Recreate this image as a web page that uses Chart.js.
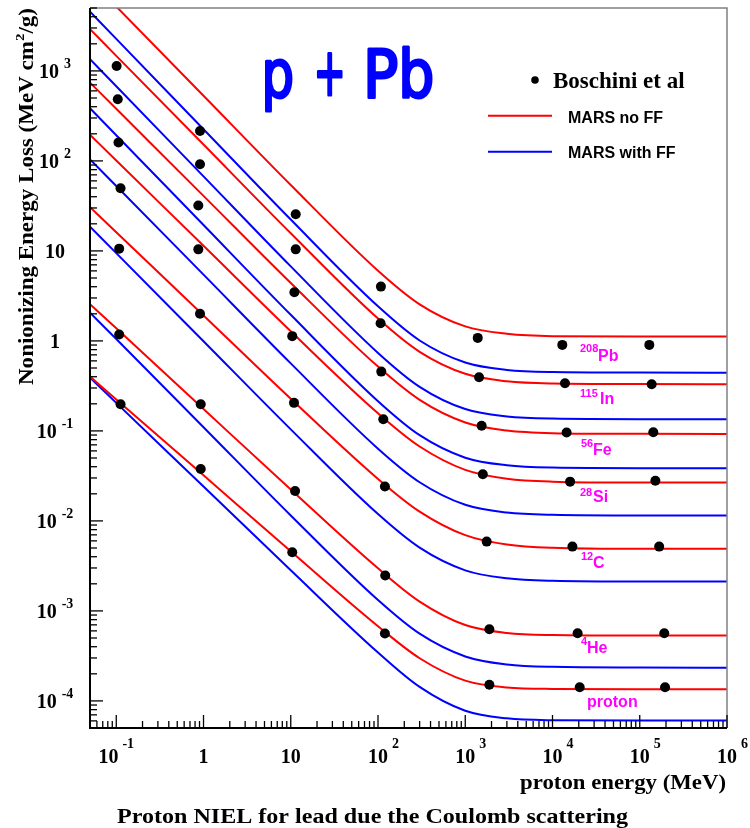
<!DOCTYPE html>
<html><head><meta charset="utf-8">
<script src="https://cdn.jsdelivr.net/npm/chart.js@4/dist/chart.umd.min.js"></script>
<style>html,body{margin:0;padding:0;background:#fff;}canvas{display:block;}</style>
</head><body>
<canvas id="c" width="750" height="828"></canvas>
<script>
// ---------- data (proton energy in MeV, NIEL in MeV cm2/g) ----------
const energy = [0.05, 0.1, 1, 10, 100, 300, 1000, 3000, 1e4, 1e5, 1e6];

// MARS without form factor (red)
const noFF_Pb = [10300, 5190, 530, 54.0, 6.02, 2.55, 1.45, 1.20, 1.13, 1.12, 1.12];
const noFF_In = [2910, 1470, 152, 15.7, 1.77, 0.756, 0.431, 0.356, 0.336, 0.331, 0.330];
const noFF_Fe = [741, 379, 40.9, 4.40, 0.518, 0.221, 0.124, 0.101, 0.0944, 0.0927, 0.0926];
const noFF_Si = [195, 101, 11.4, 1.28, 0.157, 0.0671, 0.0369, 0.0294, 0.0273, 0.0267, 0.0267];
const noFF_C  = [30.6, 16.1, 1.92, 0.228, 0.0293, 0.0127, 0.00695, 0.00546, 0.00502, 0.00489, 0.00489];
const noFF_He = [2.56, 1.38, 0.175, 0.0223, 0.00297, 0.00127, 0.000697, 0.000568, 0.000539, 0.000532, 0.000532];
const noFF_p  = [0.401, 0.224, 0.0321, 0.00460, 0.000676, 0.000298, 0.000168, 0.000141, 0.000136, 0.000135, 0.000135];

// MARS with form factor (blue)
const FF_Pb = [4560, 2270, 225, 22.3, 2.42, 1.01, 0.575, 0.476, 0.451, 0.445, 0.444];
const FF_In = [1350, 675, 67.4, 6.73, 0.736, 0.309, 0.175, 0.145, 0.137, 0.135, 0.135];
const FF_Fe = [385, 193, 19.4, 1.95, 0.214, 0.0897, 0.0504, 0.0415, 0.0391, 0.0385, 0.0385];
const FF_Si = [104, 52.7, 5.45, 0.563, 0.0635, 0.0269, 0.0151, 0.0124, 0.0117, 0.0115, 0.0115];
const FF_C  = [18.6, 9.45, 0.992, 0.104, 0.0119, 0.00504, 0.00282, 0.00230, 0.00216, 0.00212, 0.00212];
const FF_He = [2.06, 1.05, 0.110, 0.0115, 0.00132, 0.000558, 0.000312, 0.000254, 0.000239, 0.000235, 0.000234];
const FF_p  = [0.391, 0.205, 0.0241, 0.00283, 0.000345, 0.000143, 7.77e-5, 6.40e-5, 6.10e-5, 6.04e-5, 6.04e-5];

// Boschini et al points
const bosE_Pb = [0.101, 0.912, 11.4, 108, 1390, 12950, 128700];
const bos_Pb  = [1136, 215, 25.6, 4.01, 1.08, 0.903, 0.903];
const bosE_In = [0.104, 0.912, 11.4, 107, 1440, 13900, 137000];
const bos_In  = [485, 91.9, 10.4, 1.57, 0.395, 0.339, 0.330];
const bosE_Fe = [0.106, 0.872, 11.0, 109, 1540, 14500, 143000];
const bos_Fe  = [160, 31.9, 3.48, 0.456, 0.114, 0.0958, 0.0967];
const bosE_Si = [0.112, 0.872, 10.4, 115, 1590, 15900, 151000];
const bos_Si  = [49.7, 10.4, 1.13, 0.135, 0.0330, 0.0273, 0.0280];
const bosE_C  = [0.108, 0.912, 10.9, 120, 1760, 16900, 167000];
const bos_C   = [10.6, 2.00, 0.205, 0.0241, 0.00589, 0.00518, 0.00518];
const bosE_He = [0.108, 0.929, 11.2, 121, 1890, 19400, 191000];
const bos_He  = [1.18, 0.198, 0.0215, 0.00247, 0.000626, 0.000565, 0.000565];
const bosE_p  = [0.112, 0.929, 10.4, 120, 1890, 20500, 195000];
const bos_p   = [0.198, 0.0378, 0.00449, 0.00056, 0.000151, 0.000142, 0.000142];

// tick labels: [mantissa, exponent]
const xTickValues = [0.1, 1, 10, 100, 1e3, 1e4, 1e5, 1e6];
const xTickLabels = [['10','-1'],['1',''],['10',''],['10','2'],['10','3'],['10','4'],['10','5'],['10','6']];
const yTickValues = [1e-4, 1e-3, 1e-2, 1e-1, 1, 10, 100, 1e3];
const yTickLabels = [['10','-4'],['10','-3'],['10','-2'],['10','-1'],['1',''],['10',''],['10','2'],['10','3']];

// curve labels: [superscript, name]
const curveLabels = [['208','Pb'],['115','In'],['56','Fe'],['28','Si'],['12','C'],['4','He'],['','proton']];

// ---------- chart ----------
const RED = '#ff0000', BLUE = '#0000ff', MAG = '#ff00ff';
const SERIF = '"Liberation Serif","Times New Roman",serif';
const SANS = '"Liberation Sans",Arial,sans-serif';

function lineDs(vals, color){
  return {type:'line', data: energy.map((e,i)=>({x:e, y:vals[i]})), borderColor:color,
    borderWidth:2, pointRadius:0, fill:false, cubicInterpolationMode:'monotone', order:2};
}
function dotDs(es, vs){
  return {type:'line', data: es.map((e,i)=>({x:e, y:vs[i]})), showLine:false,
    pointRadius:5, pointBorderWidth:0, pointBackgroundColor:'#000', pointBorderColor:'#000', order:1};
}

const datasets = [
  lineDs(noFF_Pb, RED), lineDs(FF_Pb, BLUE),
  lineDs(noFF_In, RED), lineDs(FF_In, BLUE),
  lineDs(noFF_Fe, RED), lineDs(FF_Fe, BLUE),
  lineDs(noFF_Si, RED), lineDs(FF_Si, BLUE),
  lineDs(noFF_C, RED),  lineDs(FF_C, BLUE),
  lineDs(noFF_He, RED), lineDs(FF_He, BLUE),
  lineDs(noFF_p, RED),  lineDs(FF_p, BLUE),
  dotDs(bosE_Pb, bos_Pb), dotDs(bosE_In, bos_In), dotDs(bosE_Fe, bos_Fe),
  dotDs(bosE_Si, bos_Si), dotDs(bosE_C, bos_C), dotDs(bosE_He, bos_He), dotDs(bosE_p, bos_p)
];

function seg(ctx,x1,y1,x2,y2){ctx.beginPath();ctx.moveTo(x1,y1);ctx.lineTo(x2,y2);ctx.stroke();}

function powWidth(ctx, m, e, fm, fe, gap){
  ctx.font = fm; const wm = ctx.measureText(m).width;
  let we = 0; if (e){ ctx.font = fe; we = ctx.measureText(e).width + gap; }
  return [wm, we];
}

// draw one glyph so that its ink spans [l, r] horizontally, on the given baseline
function glyph(ctx, ch, l, r, base, lw){
  const m = ctx.measureText(ch);
  const inkW = m.actualBoundingBoxLeft + m.actualBoundingBoxRight + lw;
  ctx.save();
  ctx.translate(l, base); ctx.scale((r - l) / inkW, 1);
  const ox = m.actualBoundingBoxLeft + lw / 2;
  ctx.fillText(ch, ox, 0); ctx.strokeText(ch, ox, 0);
  ctx.restore();
}

const decor = {
  id:'decor',
  afterDraw(chart){
    const {ctx, chartArea:a, scales:{x, y}} = chart;
    ctx.save();
    // frame
    ctx.strokeStyle = '#808080'; ctx.lineWidth = 1.5;
    ctx.beginPath(); ctx.moveTo(a.left, a.top); ctx.lineTo(a.right, a.top); ctx.lineTo(a.right, a.bottom); ctx.stroke();
    ctx.strokeStyle = '#000'; ctx.lineWidth = 2;
    ctx.beginPath(); ctx.moveTo(a.left, a.top); ctx.lineTo(a.left, a.bottom); ctx.lineTo(a.right, a.bottom); ctx.stroke();
    // ticks
    ctx.lineWidth = 1.3;
    for (let d = -6; d <= 6; d++) for (let k = 1; k <= 9; k++) {
      const v = k * Math.pow(10, d);
      if (v >= y.min * 0.999 && v <= y.max * 1.001) {
        const py = y.getPixelForValue(v); seg(ctx, a.left, py, a.left + (k === 1 ? 13 : 7), py);
      }
      if (v >= x.min * 0.999 && v <= x.max * 1.001) {
        const px = x.getPixelForValue(v); seg(ctx, px, a.bottom, px, a.bottom - (k === 1 ? 13 : 7));
      }
    }
    // tick labels
    const fm = 'bold 20px ' + SERIF, fe = 'bold 14px ' + SERIF;
    ctx.fillStyle = '#000'; ctx.textBaseline = 'alphabetic'; ctx.textAlign = 'left';
    yTickValues.forEach((v, i) => {
      const [m, e] = yTickLabels[i]; const py = y.getPixelForValue(v);
      const [wm, we] = powWidth(ctx, m, e, fm, fe, 5);
      const x0 = 55 - (wm + we) / 2;
      ctx.font = fm; ctx.fillText(m, x0, py + 7);
      if (e) { ctx.font = fe; ctx.fillText(e, x0 + wm + 5, py - 3); }
    });
    xTickValues.forEach((v, i) => {
      const [m, e] = xTickLabels[i]; const px = x.getPixelForValue(v);
      const [wm, we] = powWidth(ctx, m, e, fm, fe, 4);
      let x0 = px - wm / 2;
      if (e.startsWith('-')) x0 = px - (wm + we) / 2;
      ctx.font = fm; ctx.fillText(m, x0, 763);
      if (e) { ctx.font = fe; ctx.fillText(e, x0 + wm + 4, 748); }
    });
    // y title (rotated, with superscript)
    ctx.save();
    ctx.translate(33, 196.5); ctx.rotate(-Math.PI / 2);
    const t1 = 'Nonionizing Energy Loss (MeV cm', t2 = '2', t3 = '/g)';
    const ft = 'bold 20px ' + SERIF, fts = 'bold 13px ' + SERIF;
    ctx.font = ft; const w1 = ctx.measureText(t1).width, w3 = ctx.measureText(t3).width;
    ctx.font = fts; const w2 = ctx.measureText(t2).width;
    const tot = w1 + w2 + w3; const sc = 377 / tot;
    ctx.scale(sc, 1);
    let tx = -tot / 2;
    ctx.font = ft; ctx.fillText(t1, tx, 0); tx += w1;
    ctx.font = fts; ctx.fillText(t2, tx, -9); tx += w2;
    ctx.font = ft; ctx.fillText(t3, tx, 0);
    ctx.restore();
    // x title
    ctx.font = 'bold 22px ' + SERIF;
    const xt = 'proton energy (MeV)'; const xw = ctx.measureText(xt).width;
    ctx.save(); ctx.translate(520, 789); ctx.scale(206 / xw, 1); ctx.fillText(xt, 0, 0); ctx.restore();
    // caption
    ctx.font = 'bold 20px ' + SERIF;
    const cap = 'Proton NIEL for lead due the Coulomb scattering';
    const cw = ctx.measureText(cap).width;
    ctx.save(); ctx.translate(117, 823); ctx.scale(511 / cw, 1); ctx.fillText(cap, 0, 0); ctx.restore();
    // big title p + Pb
    ctx.save();
    ctx.fillStyle = BLUE; ctx.strokeStyle = BLUE; ctx.lineWidth = 3; ctx.lineJoin = 'round';
    ctx.font = '66px "DejaVu Sans",sans-serif';
    glyph(ctx, 'p', 265, 293, 97, 3);
    glyph(ctx, '+', 317, 343, 95, 3);
    glyph(ctx, 'P', 367, 398, 97, 3);
    glyph(ctx, 'b', 402, 433, 97, 3);
    ctx.restore();
    // legend
    ctx.fillStyle = '#000';
    ctx.beginPath(); ctx.arc(535, 80, 3.8, 0, Math.PI * 2); ctx.fill();
    ctx.font = 'bold 23px ' + SERIF; ctx.fillText('Boschini et al', 553, 88);
    ctx.lineWidth = 2;
    ctx.strokeStyle = RED; seg(ctx, 488, 115.7, 552, 115.7);
    ctx.strokeStyle = BLUE; seg(ctx, 488, 151.7, 552, 151.7);
    ctx.font = 'bold 16px ' + SANS; ctx.fillStyle = '#000';
    ctx.fillText('MARS no FF', 568, 123);
    ctx.fillText('MARS with FF', 568, 158);
    // curve labels
    const pos = [[580,352,598,361],[580,397,600,404],[581,447,593,455],[580,496,593,502],[581,560,593,568],[581,645,587,653],[0,0,587,707]];
    ctx.fillStyle = MAG;
    curveLabels.forEach(([s, n], i) => {
      const [sx, sy, nx, ny] = pos[i];
      if (s) { ctx.font = 'bold 11px ' + SANS; ctx.fillText(s, sx, sy); }
      ctx.font = 'bold 16px ' + SANS; ctx.fillText(n, nx, ny);
    });
    ctx.restore();
  }
};

new Chart(document.getElementById('c'), {
  type: 'line',
  data: { datasets },
  options: {
    responsive: false, animation: false, devicePixelRatio: 1,
    layout: { padding: { left: 90, right: 23, top: 8, bottom: 100 } },
    scales: {
      x: { type: 'logarithmic', min: 0.05, max: 1e6, display: false },
      y: { type: 'logarithmic', min: 5e-5, max: 5e3, display: false }
    },
    plugins: { legend: { display: false }, tooltip: { enabled: false } }
  },
  plugins: [decor]
});
</script>
</body></html>
